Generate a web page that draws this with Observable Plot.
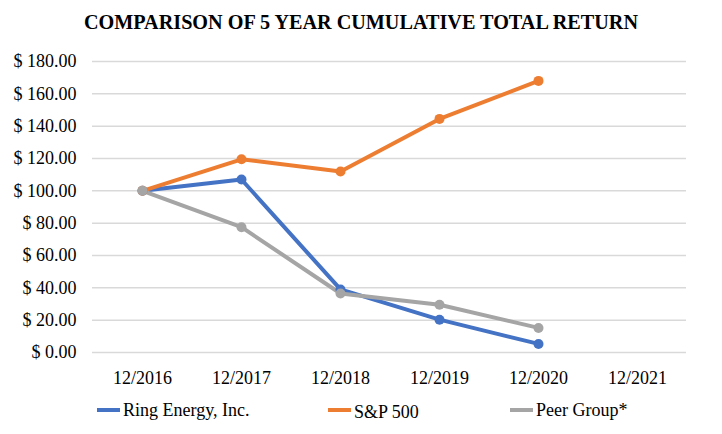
<!DOCTYPE html>
<html>
<head>
<meta charset="utf-8">
<script src="https://cdn.jsdelivr.net/npm/d3@7"></script>
<script src="https://cdn.jsdelivr.net/npm/@observablehq/plot@0.6"></script>
<style>
  body { margin: 0; background: #fff; font-family: 'Liberation Serif', serif; }
  #wrap { position: relative; width: 722px; height: 434px; overflow: hidden; }
  #title { height: 44px; line-height: 45px; text-align: center; font-weight: bold; font-size: 20.2px; color: #000; }
  #legend { position: absolute; top: 398px; left: 0; width: 722px; height: 26px; font-size: 18px; color: #000; }
  .item { position: absolute; top: 0; display: flex; align-items: center; height: 24px; }
  .sw { width: 23px; height: 4px; margin-right: 3px; }
  #chart svg text { font-family: 'Liberation Serif', serif; font-size: 18px; fill: #000; }
</style>
</head>
<body>
<div id="wrap">
  <div id="title">COMPARISON OF 5 YEAR CUMULATIVE TOTAL RETURN</div>
  <div id="chart"></div>
  <div id="legend"></div>
</div>
<script>
const years = ["12/2016", "12/2017", "12/2018", "12/2019", "12/2020", "12/2021"];
const seriesNames = ["Ring Energy, Inc.", "S&P 500", "Peer Group*"];
const seriesColors = ["#4472C4", "#ED7D31", "#A5A5A5"];
const ringEnergy = [100, 107, 39, 20.3, 5.3];
const sp500 = [100, 119.5, 112, 144.5, 168];
const peerGroup = [100, 77.5, 36.5, 29.5, 15.2];
const yTicks = [0, 20, 40, 60, 80, 100, 120, 140, 160, 180];

const allSeries = [ringEnergy, sp500, peerGroup];
const data = [];
allSeries.forEach((vals, si) => {
  vals.forEach((v, i) => data.push({ series: seriesNames[si], year: years[i], value: v }));
});

const chart = Plot.plot({
  width: 722,
  height: 352,
  marginTop: 17,
  marginBottom: 44,
  marginLeft: 92,
  marginRight: 36,
  style: "font-family: 'Liberation Serif', serif; font-size: 18px; color: #000; background: #fff;",
  x: { type: "point", domain: years, padding: 0.5, label: null, tickSize: 0, tickPadding: 19 },
  y: { domain: [0, 180], ticks: yTicks, tickFormat: d => "$ " + d.toFixed(2), label: null, tickSize: 0, tickPadding: 16 },
  color: { domain: seriesNames, range: seriesColors },
  marks: [
    Plot.ruleY(yTicks, { stroke: "#d9d9d9", strokeWidth: 1.5 }),
    Plot.line(data, { x: "year", y: "value", z: "series", stroke: "series", strokeWidth: 4, strokeLinejoin: "round", strokeLinecap: "round" }),
    Plot.dot(data, { x: "year", y: "value", fill: "series", r: 5 })
  ]
});
document.getElementById("chart").appendChild(chart);

const legend = document.getElementById("legend");
const legendX = [97, 328, 510];
const legendTextShift = [0, 2, 0];
seriesNames.forEach((name, i) => {
  const item = document.createElement("div");
  item.className = "item";
  item.style.left = legendX[i] + "px";
  const sw = document.createElement("span");
  sw.className = "sw";
  sw.style.background = seriesColors[i];
  const t = document.createElement("span");
  t.textContent = name;
  t.style.position = "relative";
  t.style.top = legendTextShift[i] + "px";
  item.appendChild(sw);
  item.appendChild(t);
  legend.appendChild(item);
});
</script>
</body>
</html>
